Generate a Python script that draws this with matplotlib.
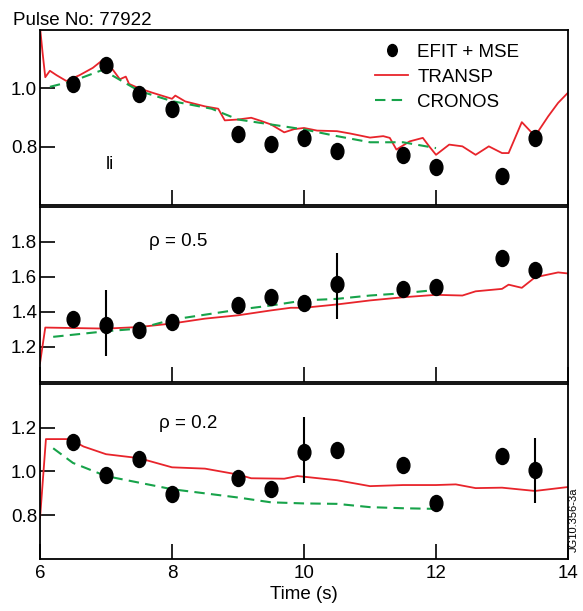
import numpy as np
import matplotlib.pyplot as plt
from matplotlib.path import Path
from matplotlib.transforms import Affine2D

plt.rcParams['font.family'] = ['Liberation Sans', 'DejaVu Sans']

# EFIT + MSE measurement times
t_efit = [6.5, 7.0, 7.5, 8.0, 9.0, 9.5, 10.0, 10.5, 11.5, 12.0, 13.0, 13.5]

# panel 1: li
li_efit = [1.014, 1.079, 0.982, 0.928, 0.845, 0.81, 0.828, 0.786, 0.77, 0.729, 0.698, 0.831]
li_transp_t = [6.0, 6.04, 6.08, 6.15, 6.25, 6.4, 6.6, 6.8, 6.95, 7.05, 7.21, 7.3, 7.35, 7.5, 7.7,
               8.0, 8.05, 8.2, 8.5, 8.7, 8.8, 9.0, 9.2, 9.35, 9.5, 9.7, 9.85, 10.0, 10.2, 10.5,
               10.7, 11.0, 11.2, 11.3, 11.4, 11.6, 11.8, 11.9, 12.0, 12.2, 12.4, 12.6,
               12.8, 13.0, 13.1, 13.3, 13.5, 13.7, 13.85, 14.0]
li_transp = [1.21, 1.12, 1.038, 1.06, 1.045, 1.025, 1.045, 1.07, 1.097, 1.08, 1.031, 1.04, 1.015,
             1.0, 0.985, 0.964, 0.975, 0.955, 0.938, 0.93, 0.89, 0.893, 0.899, 0.888, 0.876, 0.849,
             0.86, 0.864, 0.855, 0.853, 0.845, 0.831, 0.836, 0.83, 0.79, 0.818, 0.83, 0.8,
             0.772, 0.807, 0.801, 0.772, 0.801, 0.778, 0.778, 0.884, 0.836, 0.904, 0.95, 0.985]
li_cronos_t = [6.15, 6.5, 6.95, 7.5, 8.0, 8.6, 9.0, 9.5, 10.0, 10.5, 11.0, 11.5, 12.0]
li_cronos = [1.005, 1.025, 1.063, 0.991, 0.956, 0.93, 0.893, 0.876, 0.859, 0.836, 0.815, 0.815, 0.795]

# panel 2: rho = 0.5
q5_efit = [1.362, 1.324, 1.296, 1.343, 1.441, 1.484, 1.45, 1.56, 1.532, 1.541, 1.708, 1.641]
q5_err_t = [7.0, 10.5]
q5_err_val = [1.324, 1.56]
q5_err_lo = [0.176, 0.198]
q5_err_hi = [0.199, 0.176]
q5_transp_t = [6.0, 6.08, 7.0, 7.5, 8.0, 8.5, 9.0, 9.5, 9.8, 10.0, 10.5, 11.0, 11.5, 12.0,
               12.4, 12.6, 13.0, 13.1, 13.3, 13.5, 13.85, 14.0]
q5_transp = [1.107, 1.311, 1.305, 1.314, 1.334, 1.362, 1.381, 1.409, 1.424, 1.424, 1.443,
             1.466, 1.484, 1.498, 1.494, 1.518, 1.532, 1.556, 1.538, 1.598, 1.626, 1.62]
q5_cronos_t = [6.2, 7.0, 7.5, 8.0, 9.0, 9.5, 10.0, 10.5, 11.0, 11.5, 12.0]
q5_cronos = [1.258, 1.29, 1.305, 1.356, 1.413, 1.437, 1.466, 1.475, 1.494, 1.507, 1.526]

# panel 3: rho = 0.2
q2_efit = [1.136, 0.982, 1.057, 0.897, 0.971, 0.919, 1.091, 1.096, 1.031, 0.856, 1.072, 1.006]
q2_err_t = [10.0, 13.5]
q2_err_val = [1.091, 1.006]
q2_err_lo = [0.142, 0.152]
q2_err_hi = [0.158, 0.145]
q2_transp_t = [6.0, 6.09, 6.45, 6.66, 7.0, 7.5, 8.0, 8.5, 9.0, 9.2, 9.7, 9.9, 10.0, 10.5,
               11.0, 11.5, 12.0, 12.3, 12.6, 13.0, 13.5, 14.0]
q2_transp = [0.785, 1.148, 1.148, 1.114, 1.079, 1.061, 1.019, 1.013, 0.986, 0.969, 0.967,
             0.979, 0.976, 0.96, 0.933, 0.938, 0.938, 0.941, 0.924, 0.926, 0.911, 0.929]
q2_cronos_t = [6.2, 6.5, 7.0, 7.5, 8.0, 9.0, 9.5, 10.0, 10.5, 11.0, 11.5, 12.0]
q2_cronos = [1.106, 1.039, 0.979, 0.949, 0.919, 0.881, 0.859, 0.854, 0.852, 0.837, 0.832, 0.829]

red = '#e8242b'
green = '#17a34a'
ellipse = Path.unit_circle().transformed(Affine2D().scale(0.8, 1.0))

fig = plt.figure(figsize=(5.83, 6.11), dpi=100)
bottoms = [0.6645, 0.3748, 0.0851]
h = 0.2865
axes = [fig.add_axes([0.0686, b, 0.9057, h]) for b in bottoms]

panels = [
    (li_efit, li_transp_t, li_transp, li_cronos_t, li_cronos, None, (0.6, 1.2), [0.8, 1.0]),
    (q5_efit, q5_transp_t, q5_transp, q5_cronos_t, q5_cronos,
     (q5_err_t, q5_err_val, q5_err_lo, q5_err_hi), (1.0, 2.0), [1.2, 1.4, 1.6, 1.8]),
    (q2_efit, q2_transp_t, q2_transp, q2_cronos_t, q2_cronos,
     (q2_err_t, q2_err_val, q2_err_lo, q2_err_hi), (0.6, 1.4), [0.8, 1.0, 1.2]),
]

for ax, (efit, tt, tv, ct, cv, err, ylim, yt) in zip(axes, panels):
    ax.plot(tt, tv, color=red, lw=1.3, label='TRANSP', zorder=2)
    ax.plot(ct, cv, color=green, lw=1.5, ls=(0, (5, 3)), label='CRONOS', zorder=2)
    if err is not None:
        ax.errorbar(err[0], err[1], yerr=[err[2], err[3]], fmt='none',
                    ecolor='black', elinewidth=1.5, capsize=0, zorder=3)
    ax.plot(t_efit, efit, ls='none', marker=ellipse, ms=11.5, color='black',
            label='EFIT + MSE', zorder=4)
    ax.set_xlim(6, 14)
    ax.set_ylim(*ylim)
    ax.set_yticks(yt)
    ax.set_xticks([6, 8, 10, 12, 14])
    ax.tick_params(direction='in', length=11, width=1.2, labelsize=13.5,
                   top=False, right=False, pad=4)
    ax.tick_params(axis='y', pad=2)
    for s in ax.spines.values():
        s.set_linewidth(1.3)
    ax.yaxis.set_major_formatter(plt.FuncFormatter(lambda v, p: '%.1f' % v))

for ax in axes[:2]:
    ax.tick_params(labelbottom=False)
axes[2].set_xticklabels(['6', '8', '10', '12', '14'])
axes[2].set_xlabel('Time (s)', fontsize=13.5, labelpad=3)

# labels inside panels
axes[0].text(7.06, 0.738, 'li', fontsize=13.5, ha='center', va='center')
axes[1].text(8.09, 1.8, 'ρ = 0.5', fontsize=13.5, ha='center', va='center')
axes[2].text(8.24, 1.217, 'ρ = 0.2', fontsize=13.5, ha='center', va='center')

handles, labels = axes[0].get_legend_handles_labels()
order = [2, 0, 1]
axes[0].legend([handles[i] for i in order], [labels[i] for i in order],
               loc='upper left', bbox_to_anchor=(0.617, 0.975), frameon=False,
               fontsize=13.5, handlelength=1.75, handletextpad=0.5,
               labelspacing=0.42, borderpad=0, markerscale=0.75)

fig.text(0.022, 0.959, 'Pulse No: 77922', fontsize=13.5, ha='left', va='baseline')
fig.text(0.992, 0.15, 'JG10.356-3a', fontsize=8, rotation=90, ha='right', va='center')

fig.savefig('out.png', dpi=100)
